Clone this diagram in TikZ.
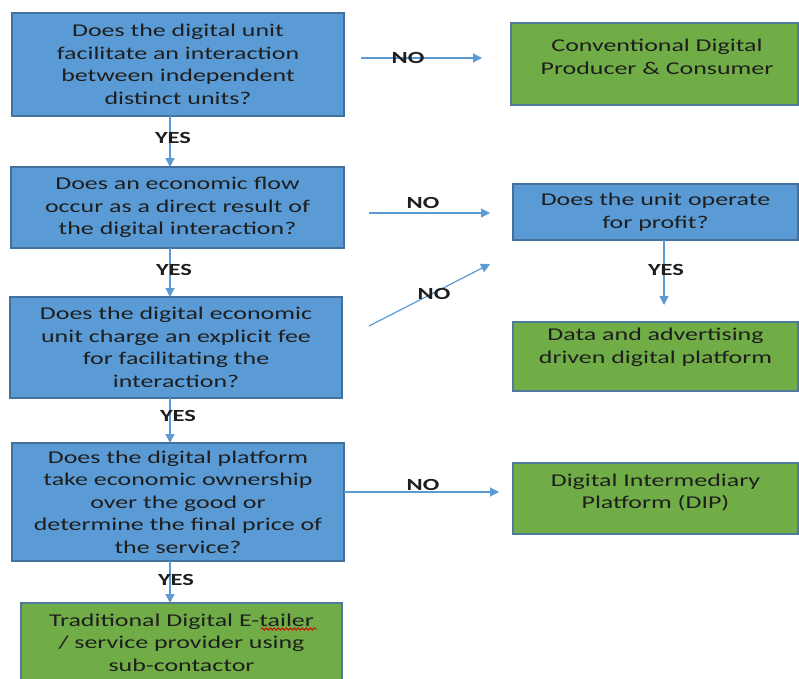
\documentclass[tikz,border=0pt]{standalone}
\usepackage{fontspec}
\setmainfont{Carlito}[FakeStretch=1.44]
\usetikzlibrary{arrows.meta,decorations.pathmorphing}
\definecolor{boxblue}{HTML}{5B9BD5}
\definecolor{boxgreen}{HTML}{70AD47}
\definecolor{edgeblue}{HTML}{41719C}
\definecolor{edgegreen}{HTML}{4F7A9E}
\definecolor{arrowblue}{HTML}{5B9BD5}
\definecolor{txtcol}{HTML}{1E1E1E}
\tikzset{
  qbox/.style={draw=edgeblue, fill=boxblue, line width=1.4pt, inner sep=0pt, outer sep=0pt,
    align=center, text=txtcol, font=\fontsize{18}{22.5}\selectfont},
  gbox/.style={draw=edgegreen, fill=boxgreen, line width=1.4pt, inner sep=0pt, outer sep=0pt},
  gtxt/.style={align=center, text=txtcol, font=\fontsize{18}{22.5}\selectfont, inner sep=0pt},
  arr/.style={draw=arrowblue, line width=1.2pt, -{Triangle[length=9pt,width=9pt]}},
  lbl/.style={font=\bfseries\fontsize{17}{20}\selectfont, text=txtcol, inner sep=0pt},
}
\begin{document}
\begin{tikzpicture}[x=1pt,y=-1pt]
\useasboundingbox (0,0) rectangle (799,678);
\clip (0,0) rectangle (799,678);
\fill[white] (0,0) rectangle (799,678);

% left column
\node[qbox, minimum width=332pt, minimum height=103pt] (b1) at (178,64.5)
  {Does the digital unit\\facilitate an interaction\\between independent\\distinct units?};
\node[qbox, minimum width=333pt, minimum height=81pt] (b2) at (177.5,207.5)
  {Does an economic flow\\occur as a direct result of\\the digital interaction?};
\node[qbox, minimum width=332pt, minimum height=101pt] (b3) at (176,347.5)
  {Does the digital economic\\unit charge an explicit fee\\for facilitating the\\interaction?};
\node[qbox, minimum width=332pt, minimum height=118pt] (b4) at (178,502)
  {Does the digital platform\\take economic ownership\\over the good or\\determine the final price of\\the service?};
\node[gbox, minimum width=321pt, minimum height=82pt] (g4) at (181.5,644) {};
\node[gtxt] (g4t) at (181.5,642.5) {Traditional Digital E-tailer\\/ service provider using\\sub-contactor};

% right column
\node[gbox, minimum width=287pt, minimum height=82pt] (g1) at (654.5,64) {};
\node[gtxt] (g1t) at (657,57) {Conventional Digital\\Producer \& Consumer};
\node[qbox, minimum width=285pt, minimum height=56pt] (r2) at (655.5,212)
  {Does the unit operate\\for profit?};
\node[gbox, minimum width=285pt, minimum height=69pt] (g2) at (655.5,356.5) {};
\node[gtxt] (g2t) at (655.5,347.5) {Data and advertising\\driven digital platform};
\node[gbox, minimum width=285pt, minimum height=71pt] (g3) at (655.5,498.5) {};
\node[gtxt] (g3t) at (655.5,492.5) {Digital Intermediary\\Platform (DIP)};

% spell-check mark
\coordinate (sq1) at (261,629);
\coordinate (sq2) at (317,629);
\draw[red!85!black, line width=0.9pt, decorate, decoration={snake, amplitude=1.1pt, segment length=4pt}] (sq1) -- (sq2);

% connector coordinates
\coordinate (ax) at (170,0);
\coordinate (rx) at (664,0);
\coordinate (n1a) at (361,58);
\coordinate (n1b) at (482,58);
\coordinate (n2a) at (369,213);
\coordinate (n2b) at (490,213);
\coordinate (n3a) at (369,326);
\coordinate (n3b) at (490,264);
\coordinate (y5b) at (664,305);
\coordinate (n4b) at (499,492);

% connectors
\draw[arr] (b1.south -| ax) -- (b2.north -| ax);
\draw[arr] (b2.south -| ax) -- (b3.north -| ax);
\draw[arr] (b3.south -| ax) -- (b4.north -| ax);
\draw[arr] (b4.south -| ax) -- (g4.north -| ax);
\draw[arr] (n1a) -- (n1b);
\draw[arr] (n2a) -- (n2b);
\draw[arr] (n3a) -- (n3b);
\draw[arr] (r2.south -| rx) -- (y5b);
\draw[arr] (b4.east |- n4b) -- (n4b);

% labels
\node[lbl] (l1) at (173,138) {YES};
\node[lbl] (l2) at (174,270) {YES};
\node[lbl] (l3) at (178,416) {YES};
\node[lbl] (l4) at (176,580) {YES};
\node[lbl] (l5) at (408,57.5) {NO};
\node[lbl] (l6) at (423,203) {NO};
\node[lbl] (l7) at (434,294) {NO};
\node[lbl] (l8) at (666,270) {YES};
\node[lbl] (l9) at (423,485) {NO};
\end{tikzpicture}
\end{document}
